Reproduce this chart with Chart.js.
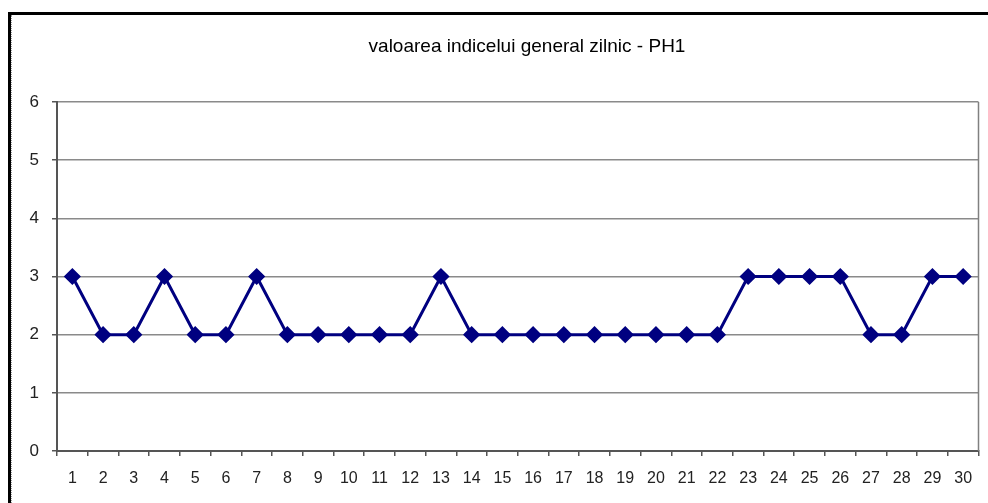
<!DOCTYPE html>
<html>
<head>
<meta charset="utf-8">
<script src="https://cdn.jsdelivr.net/npm/chart.js@4.4.1/dist/chart.umd.min.js"></script>
<style>
    html, body { margin: 0; padding: 0; background: #ffffff; }
    #wrap { position: relative; width: 988px; height: 503px; overflow: hidden; }
    #frame {
        position: absolute; left: 8px; top: 12px; right: -10px; bottom: -10px;
        border-top: 3px solid #000; border-left: 3px solid #000;
    }
    #frame::after {
        content: ''; position: absolute; left: 0; top: 0; bottom: 0;
        border-left: 1px dotted #999;
    }
    #myLineChart { position: absolute; left: 0; top: 0; }
</style>
</head>
<body>
<div id="wrap">
    <div id="frame"></div>
    <canvas id="myLineChart" width="988" height="503"></canvas>
</div>
<script>
const chartTitle = 'valoarea indicelui general zilnic - PH1';
const days = ['1', '2', '3', '4', '5', '6', '7', '8', '9', '10', '11', '12', '13', '14', '15',
              '16', '17', '18', '19', '20', '21', '22', '23', '24', '25', '26', '27', '28', '29', '30'];
const indexValues = [3, 2, 2, 3, 2, 2, 3, 2, 2, 2, 2, 2, 3, 2, 2,
                     2, 2, 2, 2, 2, 2, 2, 3, 3, 3, 3, 2, 2, 3, 3];
const yMin = 0;
const yMax = 6;

const font = "'Liberation Sans', Arial, sans-serif";

// title + right border of the plot area
const extras = {
    id: 'extras',
    afterDraw(chart) {
        const ctx = chart.ctx;
        const a = chart.chartArea;
        ctx.save();
        ctx.strokeStyle = '#808080';
        ctx.lineWidth = 1.5;
        ctx.beginPath();
        ctx.moveTo(a.right, a.top);
        ctx.lineTo(a.right, a.bottom);
        ctx.stroke();
        ctx.fillStyle = '#000';
        ctx.font = '19px ' + font;
        ctx.textAlign = 'center';
        ctx.textBaseline = 'middle';
        ctx.fillText(chartTitle, 527, 47);
        ctx.restore();
    }
};

const config = {
    type: 'line',
    data: {
        labels: days,
        datasets: [{
            data: indexValues,
            borderColor: '#000080',
            backgroundColor: '#000080',
            borderWidth: 3,
            pointStyle: 'rectRot',
            pointRadius: 6.5,
            pointHoverRadius: 6.5,
            fill: false,
            tension: 0
        }]
    },
    options: {
        responsive: false,
        animation: false,
        layout: { padding: { top: 102, right: 7, left: 0, bottom: 0 } },
        plugins: {
            legend: { display: false },
            tooltip: { enabled: false }
        },
        scales: {
            x: {
                offset: true,
                afterFit: (s) => { s.height = 52; },
                grid: {
                    offset: true,
                    drawOnChartArea: false,
                    drawTicks: true,
                    tickLength: 5,
                    color: '#555',
                    lineWidth: 1.5
                },
                border: { display: true, color: '#555', width: 2 },
                ticks: {
                    color: '#222',
                    padding: 13,
                    maxRotation: 0,
                    autoSkip: false,
                    font: { family: font, size: 16 }
                }
            },
            y: {
                min: yMin,
                max: yMax,
                afterFit: (s) => { s.width = 57; },
                grid: {
                    color: '#8a8a8a',
                    lineWidth: 1.5,
                    drawTicks: true,
                    tickLength: 5,
                    tickColor: '#555'
                },
                border: { display: true, color: '#555', width: 2 },
                ticks: {
                    stepSize: 1,
                    color: '#222',
                    padding: 13,
                    font: { family: font, size: 17 }
                }
            }
        }
    },
    plugins: [extras]
};

new Chart(document.querySelector('#myLineChart'), config);
</script>
</body>
</html>
